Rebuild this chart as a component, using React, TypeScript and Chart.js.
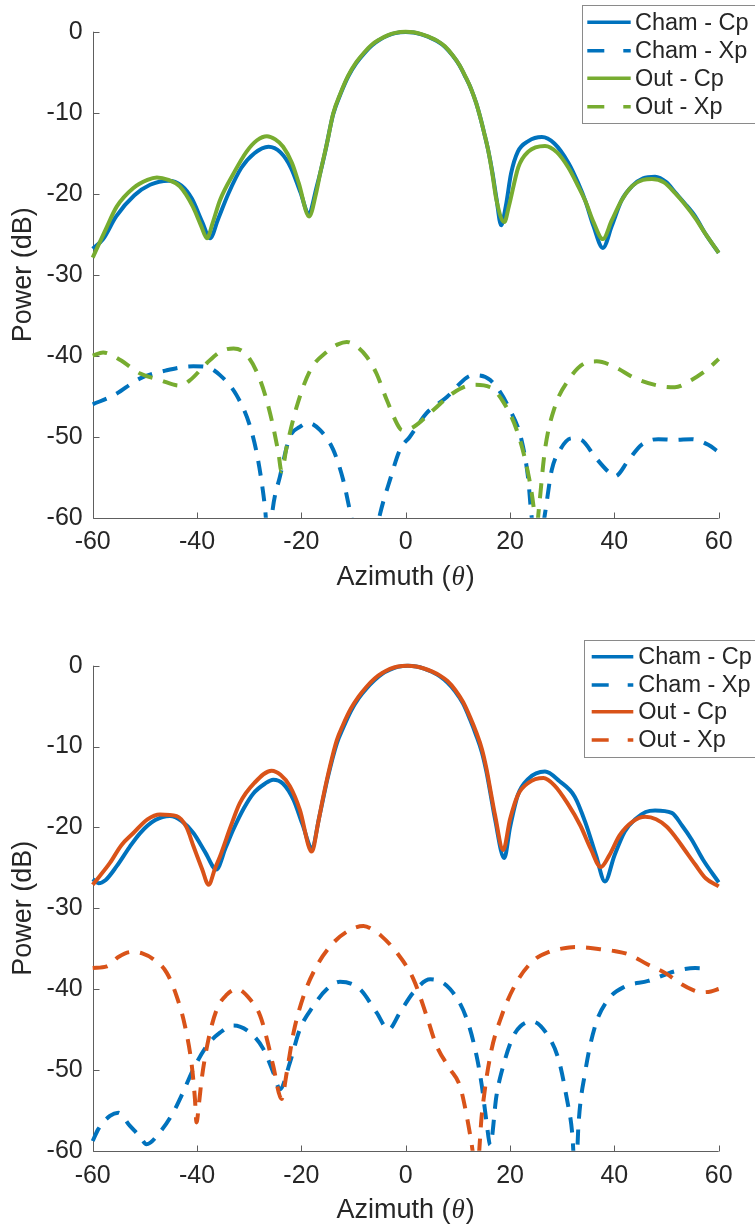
import React, { useEffect, useRef } from "react";
import { Chart, registerables } from "chart.js";

Chart.register(...registerables);

// ---- shared look ----
const SANS = "'Liberation Sans', Arial, Helvetica, sans-serif";
const SERIF = "'Liberation Serif', 'DejaVu Serif', serif";
const INK = "#262626";
const AXIS_GRAY = "#5e5e5e";
const BLUE = "#0072BD";
const GREEN = "#77AC30";
const ORANGE = "#D95319";

// ---- axes ----
const AZ_TICKS = [-60, -40, -20, 0, 20, 40, 60];
const DB_TICKS = [0, -10, -20, -30, -40, -50, -60];
const SERIES_LABELS = ["Cham - Cp", "Cham - Xp", "Out - Cp", "Out - Xp"];
const X_TITLE_MAIN = "Azimuth (";
const X_TITLE_SYMBOL = "θ";
const X_TITLE_END = ")";
const Y_TITLE = "Power (dB)";

// ---- upper panel: chamber vs outdoor ----
const topChamCpAz = [-60, -58, -55.5, -52, -49, -45.5, -43, -41, -39, -37.5, -36, -34, -31.5, -29, -26.3, -24, -22, -20.2, -18.6, -17, -15.5, -13.9, -12.5, -11, -9.5, -8, -6.5, -5, -3.5, -2, 0, 1.5, 3, 4.5, 6, 7.5, 9, 10.3, 11.5, 12.5, 13.5, 14.3, 15, 15.8, 16.6, 17.4, 18.3, 19.2, 20.2, 21.5, 23.5, 26.1, 28.5, 31.2, 33, 34.5, 36, 37.8, 39.5, 41.4, 43.5, 45.5, 47.8, 50, 51.6, 53.5, 55.5, 57.5, 60];
const topChamCpDb = [-26.8, -25.6, -22.8, -20.2, -18.9, -18.4, -19.0, -20.6, -23.5, -25.5, -23.2, -20.0, -16.8, -15.0, -14.2, -14.9, -16.8, -19.8, -22.4, -19.0, -15.0, -10.2, -7.7, -5.5, -3.9, -2.7, -1.7, -1.0, -0.5, -0.18, -0.05, -0.1, -0.32, -0.68, -1.15, -1.85, -2.95, -4.15, -5.65, -7.0, -8.8, -10.6, -12.4, -14.6, -17.3, -20.6, -23.9, -21.5, -17.5, -14.8, -13.5, -13.0, -13.8, -16.2, -18.6, -21.0, -24.0, -26.7, -24.0, -20.8, -19.0, -18.1, -17.9, -18.6, -19.8, -21.2, -22.8, -25.0, -27.3];

const topChamXpAz = [-60, -56, -50.9, -45.8, -40.7, -38.1, -35.6, -32.4, -29.8, -28.3, -27, -26.2, -25.5, -24.1, -22.2, -20.3, -18.7, -16.4, -13.9, -12, -10.4, -8, -6, -4.9, -3, -1.1, 0.8, 4, 7.9, 11.7, 13, 16.2, 20, 22.2, 23.5, 24, 25.3, 26.7, 28, 29.6, 31.8, 33.7, 36.3, 38.8, 40.1, 42.7, 45.2, 48.4, 51.6, 54.8, 58, 60];
const topChamXpDb = [-46.0, -44.9, -42.8, -41.8, -41.3, -41.4, -42.4, -44.9, -48.8, -52.9, -58.6, -64, -59, -54.9, -50.0, -48.8, -48.3, -49.2, -51.6, -55.3, -60, -66, -63, -59.5, -55.3, -51.6, -50.0, -47.1, -45.1, -42.7, -42.4, -43.0, -46.7, -50.4, -55.3, -59, -65, -59.5, -54.1, -51.6, -50.2, -50.4, -52.5, -54.3, -54.9, -52.9, -51.0, -50.3, -50.4, -50.3, -51.0, -51.9];

const topOutCpAz = [-60, -57.5, -55.4, -52.2, -49.5, -47.7, -45.5, -43.3, -40.8, -39.2, -38.1, -37, -35.6, -33, -30.5, -28.5, -26.6, -25, -23.5, -21.8, -20.5, -18.5, -17.2, -16.4, -15, -13.9, -12.5, -11, -9.5, -8, -6.5, -5, -3.5, -2, 0, 1.5, 3, 4.5, 6, 7.5, 9, 10.3, 11.5, 12.5, 13.5, 14.3, 15, 15.8, 16.6, 17.4, 18.9, 19.8, 21.6, 23.5, 26.7, 29, 31.2, 33, 34.5, 36, 37.8, 39.5, 41.4, 43.5, 45.5, 47.2, 49.5, 51.6, 53.5, 55.5, 57.5, 60];
const topOutCpDb = [-27.9, -24.4, -21.6, -19.3, -18.3, -18.0, -18.3, -19.1, -21.6, -24.0, -25.5, -23.6, -20.8, -17.5, -14.8, -13.4, -12.9, -13.3, -14.2, -16.2, -18.7, -22.8, -20.0, -17.5, -13.5, -10.1, -7.6, -5.4, -3.8, -2.6, -1.6, -0.95, -0.45, -0.15, -0.02, -0.08, -0.3, -0.65, -1.1, -1.8, -2.9, -4.1, -5.6, -7.0, -8.8, -10.6, -12.4, -14.6, -17.5, -20.8, -23.5, -21.5, -16.7, -14.8, -14.1, -14.9, -16.8, -19.0, -21.0, -23.5, -25.6, -23.3, -20.8, -19.0, -18.3, -18.2, -18.6, -19.9, -21.3, -23.0, -25.0, -27.3];

const topOutXpAz = [-60, -58, -54.8, -50.9, -47.1, -43.3, -41.3, -38.1, -35.5, -33, -30.5, -27.9, -26, -24.4, -23.8, -22.8, -20.9, -18.3, -15.1, -13, -11.3, -9.5, -7.5, -5.6, -3.6, -1.1, -0.5, 1.5, 5.3, 9.1, 13, 16.2, 18.7, 21.3, 23.2, 24.5, 25.0, 25.5, 26.7, 28.6, 31.2, 34.4, 36.6, 40.1, 44, 48.4, 51.6, 54.8, 58, 60];
const topOutXpDb = [-40.0, -39.6, -40.5, -42.2, -43.0, -43.7, -43.0, -40.9, -39.5, -39.1, -39.9, -43.0, -47.1, -52.0, -54.3, -51.2, -46.3, -41.8, -39.5, -38.6, -38.3, -38.8, -40.1, -42.2, -45.5, -49.0, -49.2, -48.8, -46.7, -44.6, -43.6, -43.9, -45.7, -49.2, -53.7, -58.6, -62, -59.1, -51.6, -46.3, -43.0, -40.9, -40.7, -41.4, -42.8, -43.7, -43.9, -43.0, -41.6, -40.4];

// ---- lower panel ----
const botChamCpAz = [-60, -58.9, -57.5, -55.4, -53, -50.9, -48, -45.2, -43, -40.7, -38.5, -36.3, -34.5, -33, -31, -29.2, -27, -25.4, -23.5, -21.5, -19.8, -18, -16.5, -15, -13.2, -12, -10.5, -9, -7.5, -6, -4.5, -3, -1.5, 0.5, 2, 3.5, 5, 6.5, 8, 9.5, 11, 12.3, 13.5, 14.6, 15.5, 16.3, 17.1, 18.9, 20, 21.5, 23.5, 26.7, 29.5, 32.4, 34.5, 36.5, 38.2, 40, 42, 44, 46, 47.8, 51, 53, 54.8, 57, 60];
const botChamCpDb = [-26.4, -26.9, -26.5, -24.8, -22.5, -20.7, -19.1, -18.6, -19.2, -20.7, -23.0, -25.2, -22.5, -20.2, -17.6, -15.8, -14.6, -14.1, -14.6, -16.6, -19.6, -22.5, -18.5, -14.0, -9.6, -7.7, -5.6, -4.0, -2.8, -1.8, -1.0, -0.5, -0.15, -0.02, -0.1, -0.35, -0.75, -1.3, -2.1, -3.2, -4.7, -6.6, -8.6, -10.7, -13.2, -16.0, -18.9, -23.8, -20.0, -16.0, -14.0, -13.1, -14.3, -16.2, -19.5, -23.5, -26.7, -23.5, -20.5, -19.0, -18.1, -17.9, -18.2, -19.8, -21.5, -24.0, -26.8];

const botChamXpAz = [-60, -58.9, -56.7, -55.1, -52.9, -50.9, -49.7, -47.1, -44.6, -42.7, -40.7, -38.1, -35.6, -33, -29.8, -27.3, -25.4, -24.1, -22.2, -20.3, -17.7, -15.1, -12.6, -8.8, -5.6, -3.3, -1.1, 1.5, 4.7, 8.5, 11.7, 13.6, 14.6, 15.5, 16.2, 17.4, 18.7, 20.5, 22, 24.2, 27.3, 29.3, 30.9, 31.9, 32.6, 33.1, 34.4, 36.3, 38.8, 42, 46.5, 51.6, 55.5, 58.3];
const botChamXpDb = [-58.8, -57.3, -55.7, -55.3, -56.9, -58.3, -59.2, -57.7, -55.3, -52.8, -49.9, -47.0, -45.4, -44.5, -45.4, -47.4, -50.3, -52.4, -49.1, -45.0, -42.1, -40.0, -39.1, -40.0, -42.9, -45.0, -42.9, -40.4, -38.8, -40.0, -43.7, -48.3, -52.0, -56.5, -59.3, -53.2, -49.5, -46.0, -44.6, -44.0, -45.8, -48.7, -53.6, -57.7, -64, -57, -50.3, -44.6, -41.3, -39.7, -39.0, -37.8, -37.4, -37.5];

const botOutCpAz = [-60, -56.7, -54.5, -52.2, -49.5, -47.1, -43.9, -42, -40.7, -39, -37.8, -36.5, -35.6, -33.5, -31.8, -29, -25.7, -24, -22.2, -20.3, -18, -16.8, -15.8, -14.5, -13.2, -12, -10.5, -9, -7.5, -6, -4.5, -3, -1.5, 0.3, 2, 3.5, 5, 6.5, 8, 9.5, 11, 12.3, 13.5, 14.6, 15.5, 16.3, 17.1, 18.7, 20, 21.5, 23.5, 26.4, 28.5, 31, 33.5, 35.5, 37.4, 39, 41, 43.5, 45.9, 48, 50, 51.6, 53.5, 55.5, 57.5, 60];
const botOutCpDb = [-27.1, -24.4, -22.2, -20.7, -19.0, -18.4, -18.6, -20.0, -22.3, -25.2, -27.1, -25.0, -23.6, -19.8, -17.0, -14.5, -13.0, -13.5, -14.9, -17.8, -23.0, -19.5, -16.2, -12.4, -9.2, -7.3, -5.3, -3.8, -2.6, -1.6, -0.9, -0.4, -0.1, 0, -0.1, -0.35, -0.7, -1.2, -1.9, -3.0, -4.5, -6.3, -8.2, -10.3, -12.8, -15.6, -18.4, -22.8, -19.0, -16.0, -14.5, -13.9, -14.8, -17.0, -19.8, -22.7, -24.9, -23.5, -21.0, -19.3, -18.7, -19.0, -19.9, -21.1, -22.8, -24.6, -26.3, -27.3];

const botOutXpAz = [-60, -57.3, -55, -52.5, -50.5, -48.4, -45.8, -43.9, -42.3, -41, -40.4, -40.1, -39.6, -39.1, -37.8, -36.2, -34.3, -32.4, -29.8, -27.9, -26.6, -25.4, -23.8, -22.8, -21.5, -19.6, -17.1, -13.9, -11, -8.1, -6.2, -4.9, -1.7, 1.5, 4, 5.9, 8.5, 10.4, 11.7, 12.6, 13.6, 14.6, 16.2, 18.4, 21.6, 24.8, 27.5, 29.9, 32.5, 35, 37.6, 40, 42.7, 46.5, 49.7, 52.9, 55, 56.7, 58.5, 60];
const botOutXpDb = [-37.4, -37.2, -36.0, -35.4, -35.6, -36.3, -38.0, -40.9, -44.6, -49.5, -53.6, -56.5, -54, -51.1, -46.2, -42.5, -40.7, -40.0, -41.3, -43.3, -46.2, -49.5, -53.6, -50.3, -45.4, -40.9, -37.2, -34.3, -32.8, -32.2, -32.7, -33.3, -35.5, -38.8, -43.3, -47.0, -49.9, -52.0, -55.7, -59.0, -63, -55.5, -48.3, -43.3, -38.8, -36.3, -35.4, -35.0, -34.8, -34.9, -35.1, -35.3, -35.7, -37.0, -38.0, -39.4, -40.1, -40.4, -40.3, -40.0];

// ---- page geometry ----
const W = 755;
const H = 613;
const PLOT_LEFT = 92.7;
const PLOT_RIGHT = 718.7;
const PLOT_DASH = [15, 11];
const LEGEND_DASH = [17, 19];

interface Series {
  label: string;
  az: number[];
  db: number[];
  color: string;
  dashed: boolean;
}

interface LegendBox {
  left: number;
  top: number;
  bottom: number;
  rows: number[];
  sampleX0: number;
  sampleX1: number;
  textX: number;
}

interface PanelSpec {
  series: Series[];
  plotTop: number;
  plotBottom: number;
  tickPad: number;
  legend: LegendBox;
}

const toPoints = (az: number[], db: number[]) => az.map((x, i) => ({ x, y: db[i] }));

const topPanel: PanelSpec = {
  series: [
    { label: SERIES_LABELS[0], az: topChamCpAz, db: topChamCpDb, color: BLUE, dashed: false },
    { label: SERIES_LABELS[1], az: topChamXpAz, db: topChamXpDb, color: BLUE, dashed: true },
    { label: SERIES_LABELS[2], az: topOutCpAz, db: topOutCpDb, color: GREEN, dashed: false },
    { label: SERIES_LABELS[3], az: topOutXpAz, db: topOutXpDb, color: GREEN, dashed: true },
  ],
  plotTop: 31.7,
  plotBottom: 517.7,
  tickPad: 9,
  legend: { left: 581.7, top: 5.3, bottom: 123.3, rows: [22.3, 50.7, 78.3, 106.7], sampleX0: 587.3, sampleX1: 630.7, textX: 635 },
};

const bottomPanel: PanelSpec = {
  series: [
    { label: SERIES_LABELS[0], az: botChamCpAz, db: botChamCpDb, color: BLUE, dashed: false },
    { label: SERIES_LABELS[1], az: botChamXpAz, db: botChamXpDb, color: BLUE, dashed: true },
    { label: SERIES_LABELS[2], az: botOutCpAz, db: botOutCpDb, color: ORANGE, dashed: false },
    { label: SERIES_LABELS[3], az: botOutXpAz, db: botOutXpDb, color: ORANGE, dashed: true },
  ],
  plotTop: 52.7,
  plotBottom: 537.7,
  tickPad: 10,
  legend: { left: 584.3, top: 27, bottom: 143.7, rows: [43.7, 72, 98.7, 127], sampleX0: 591.7, sampleX1: 633.3, textX: 638.3 },
};

// MATLAB-like decorations: inward ticks, box-less axes, inset legend, axis titles
function decorations(spec: PanelSpec) {
  return {
    id: "panelDecor",
    beforeDatasetsDraw(chart: any) {
      const { ctx, chartArea: a, scales } = chart;
      ctx.save();
      ctx.strokeStyle = AXIS_GRAY;
      ctx.lineWidth = 1;
      const x0 = Math.round(a.left) + 0.5;
      const yb = Math.round(a.bottom) + 0.5;
      ctx.beginPath();
      ctx.moveTo(x0, a.top);
      ctx.lineTo(x0, yb);
      ctx.lineTo(a.right, yb);
      for (const v of DB_TICKS) {
        const y = Math.round(scales.y.getPixelForValue(v)) + 0.5;
        ctx.moveTo(x0, y);
        ctx.lineTo(x0 + 6, y);
      }
      for (const v of AZ_TICKS) {
        const x = Math.round(scales.x.getPixelForValue(v)) + 0.5;
        ctx.moveTo(x, yb);
        ctx.lineTo(x, yb - 6);
      }
      ctx.stroke();
      ctx.restore();
    },
    afterDraw(chart: any) {
      const { ctx, chartArea: a } = chart;
      ctx.save();

      // legend
      const L = spec.legend;
      ctx.fillStyle = "#ffffff";
      ctx.fillRect(L.left, L.top, W + 10 - L.left, L.bottom - L.top);
      ctx.strokeStyle = "#8a8a8a";
      ctx.lineWidth = 1;
      ctx.strokeRect(Math.round(L.left) + 0.5, Math.round(L.top) + 0.5, W + 10 - L.left, Math.round(L.bottom - L.top));
      ctx.font = `23.5px ${SANS}`;
      ctx.textBaseline = "middle";
      ctx.textAlign = "left";
      spec.series.forEach((s, i) => {
        const y = L.rows[i];
        ctx.strokeStyle = s.color;
        ctx.lineWidth = 3.5;
        ctx.setLineDash(s.dashed ? LEGEND_DASH : []);
        ctx.beginPath();
        ctx.moveTo(L.sampleX0, y);
        ctx.lineTo(L.sampleX1, y);
        ctx.stroke();
        ctx.setLineDash([]);
        ctx.fillStyle = INK;
        ctx.fillText(s.label, L.textX, y + 1);
      });

      // y title
      ctx.fillStyle = INK;
      ctx.font = `27px ${SANS}`;
      ctx.save();
      ctx.translate(24, (a.top + a.bottom) / 2);
      ctx.rotate(-Math.PI / 2);
      ctx.textAlign = "center";
      ctx.textBaseline = "middle";
      ctx.fillText(Y_TITLE, 0, 0);
      ctx.restore();

      // x title with italic theta
      const base = a.bottom + 67.5;
      const sansFont = `27px ${SANS}`;
      const symFont = `italic 27px ${SERIF}`;
      ctx.textBaseline = "alphabetic";
      ctx.textAlign = "left";
      ctx.font = sansFont;
      const w1 = ctx.measureText(X_TITLE_MAIN).width;
      const w3 = ctx.measureText(X_TITLE_END).width;
      ctx.font = symFont;
      const w2 = ctx.measureText(X_TITLE_SYMBOL).width + 2;
      let x = (a.left + a.right) / 2 - (w1 + w2 + w3) / 2;
      ctx.font = sansFont;
      ctx.fillText(X_TITLE_MAIN, x, base);
      x += w1;
      ctx.font = symFont;
      ctx.fillText(X_TITLE_SYMBOL, x + 1, base);
      x += w2;
      ctx.font = sansFont;
      ctx.fillText(X_TITLE_END, x, base);

      ctx.restore();
    },
  };
}

function Panel({ spec }: { spec: PanelSpec }) {
  const ref = useRef<HTMLCanvasElement | null>(null);

  useEffect(() => {
    const canvas = ref.current;
    if (!canvas) return;
    const n = spec.series.length;
    const chart = new Chart(canvas, {
      type: "line",
      data: {
        datasets: spec.series.map((s, i) => ({
          label: s.label,
          data: toPoints(s.az, s.db),
          borderColor: s.color,
          backgroundColor: s.color,
          borderWidth: 4,
          borderDash: s.dashed ? PLOT_DASH : [],
          borderCapStyle: "butt",
          borderJoinStyle: "round",
          pointRadius: 0,
          pointHoverRadius: 0,
          fill: false,
          cubicInterpolationMode: "monotone",
          order: n - i,
          clip: { left: 2, top: 4, right: 2, bottom: 0 },
        })) as any,
      },
      options: {
        animation: false,
        responsive: false,
        devicePixelRatio: 1,
        layout: { padding: { top: spec.plotTop, right: W - PLOT_RIGHT, left: 0, bottom: 0 } },
        plugins: { legend: { display: false }, tooltip: { enabled: false } },
        events: [],
        scales: {
          x: {
            type: "linear",
            min: -60,
            max: 60,
            grid: { display: false, drawTicks: false },
            border: { display: false },
            afterBuildTicks: (s: any) => {
              s.ticks = AZ_TICKS.map((value) => ({ value }));
            },
            afterFit: (s: any) => {
              s.height = H - spec.plotBottom;
            },
            ticks: {
              color: INK,
              font: { family: SANS, size: 25 },
              padding: spec.tickPad,
              maxRotation: 0,
              autoSkip: false,
              callback: (v: any) => String(v),
            },
          },
          y: {
            type: "linear",
            min: -60,
            max: 0,
            grid: { display: false, drawTicks: false },
            border: { display: false },
            afterBuildTicks: (s: any) => {
              s.ticks = DB_TICKS.map((value) => ({ value }));
            },
            afterFit: (s: any) => {
              s.width = PLOT_LEFT;
            },
            ticks: {
              color: INK,
              font: { family: SANS, size: 25 },
              padding: 10,
              autoSkip: false,
              callback: (v: any) => String(v),
            },
          },
        },
      } as any,
      plugins: [decorations(spec)],
    });
    return () => chart.destroy();
  }, [spec]);

  return <canvas ref={ref} width={W} height={H} style={{ display: "block", width: W, height: H }} />;
}

export default function App() {
  return (
    <div style={{ position: "absolute", left: 0, top: 0, width: W, height: 2 * H, background: "#ffffff", overflow: "hidden" }}>
      <Panel spec={topPanel} />
      <Panel spec={bottomPanel} />
    </div>
  );
}
